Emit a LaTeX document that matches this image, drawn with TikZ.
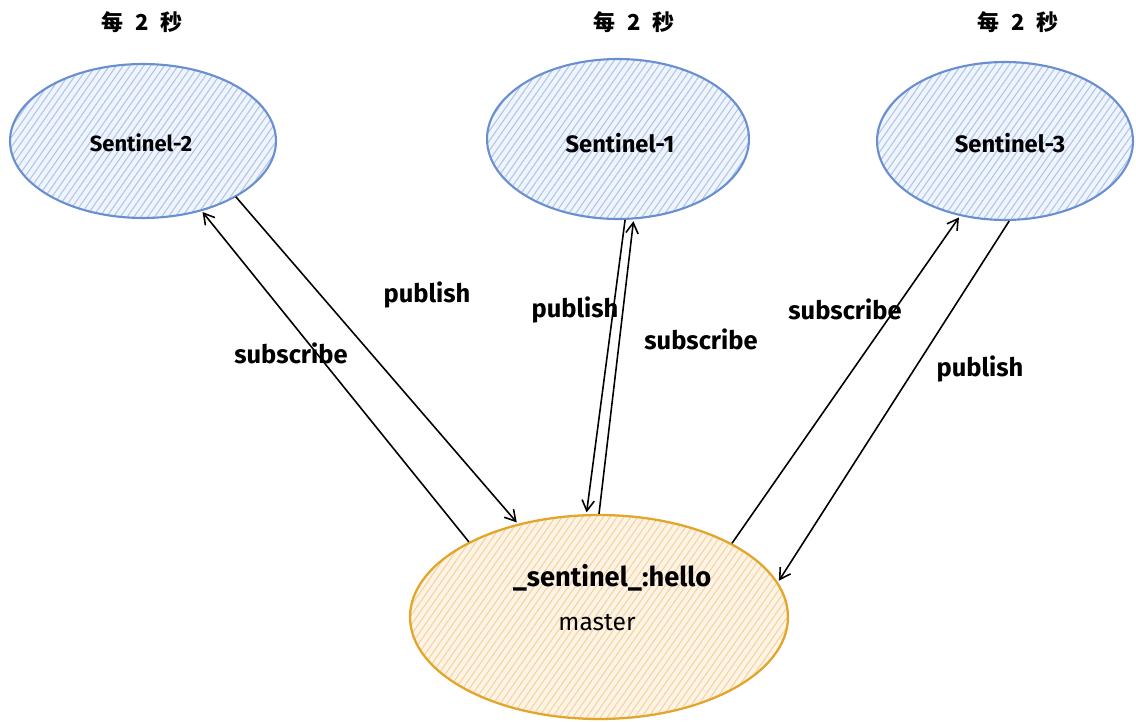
\documentclass[tikz,border=0pt]{standalone}
\usepackage{fontspec}
\setmainfont{Fira Sans}
\newfontfamily\cjk{Noto Sans CJK SC}
\usetikzlibrary{shapes.geometric,arrows.meta,patterns.meta}
\definecolor{bluestroke}{HTML}{6A8FD0}
\definecolor{bluehatch}{HTML}{ADC6EA}
\definecolor{bluebg}{HTML}{F0F4FC}
\definecolor{orstroke}{HTML}{E3A52A}
\definecolor{orhatch}{HTML}{F5D3A0}
\definecolor{orbg}{HTML}{FDF4E6}
\tikzset{
  sentinelnode/.style={ellipse, draw=bluestroke, line width=1.2pt, inner sep=0pt,
    preaction={fill=bluebg},
    pattern={Lines[angle=55,distance=3.2pt,line width=0.6pt]}, pattern color=bluehatch},
  masternode/.style={ellipse, draw=orstroke, line width=1.3pt, inner sep=0pt,
    preaction={fill=orbg},
    pattern={Lines[angle=55,distance=3.2pt,line width=0.6pt]}, pattern color=orhatch},
  lbl/.style={font=\bfseries\fontsize{14.5}{17}\selectfont, inner sep=1pt},
  slbl/.style={font=\bfseries\fontsize{13.5}{16}\selectfont, inner sep=1pt},
  tlbl/.style={font=\cjk\bfseries\fontsize{12.5}{15}\selectfont, inner sep=1pt},
  conn/.style={line width=0.9pt, -{Straight Barb[length=6pt,width=7pt,line width=0.9pt]}, shorten >=1pt}
}
\newcommand{\tsp}{\hspace{0.55em}}
\begin{document}
\begin{tikzpicture}[x=0.02cm,y=-0.02cm]
\useasboundingbox (0,0) rectangle (1136,722);
% ellipses
\node[sentinelnode, minimum width=5.32cm, minimum height=3.08cm] (s2) at (143,141) {};
\node[sentinelnode, minimum width=5.24cm, minimum height=3.2cm] (s1) at (618,139) {};
\node[sentinelnode, minimum width=5.12cm, minimum height=3.16cm] (s3) at (1005,141) {};
\node[masternode, minimum width=7.56cm, minimum height=4.08cm] (m) at (599,617) {};
% ellipse texts
\node[slbl, font=\bfseries\fontsize{12.5}{15}\selectfont] (t2) at (141,143) {Sentinel-2};
\node[slbl] (t1) at (620,143) {Sentinel-1};
\node[slbl] (t3) at (1010,143) {Sentinel-3};
\node[font=\bfseries\fontsize{15.5}{18}\selectfont, inner sep=1pt] (mt) at (612,578) {\_sentinel\_:hello};
\node[font=\fontsize{14}{16}\selectfont, inner sep=1pt] (mm) at (597,623) {master};
% titles
\node[tlbl] (h2) at (142,22) {每\tsp 2\tsp 秒};
\node[tlbl] (h1) at (634,22) {每\tsp 2\tsp 秒};
\node[tlbl] (h3) at (1018,22) {每\tsp 2\tsp 秒};
% connectors
\draw[conn] (m.150.8) -- (s2.-50.4);
\draw[conn] (s2.-31) -- (m.131);
\draw[conn] (s1.-85.5) -- (m.97.8);
\draw[conn] (m.90.6) -- (s1.-79);
\draw[conn] (m.29.4) -- (s3.-121.4);
\draw[conn] (s3.-87.9) -- (m.11.2);
% connector labels
\node[lbl] (l1) at (427,295) {publish};
\node[lbl] (l2) at (291,353) {subscribe};
\node[lbl] (l3) at (575,310) {publish};
\node[lbl] (l4) at (701,339) {subscribe};
\node[lbl] (l5) at (845,309) {subscribe};
\node[lbl] (l6) at (980,369) {publish};
\end{tikzpicture}
\end{document}
